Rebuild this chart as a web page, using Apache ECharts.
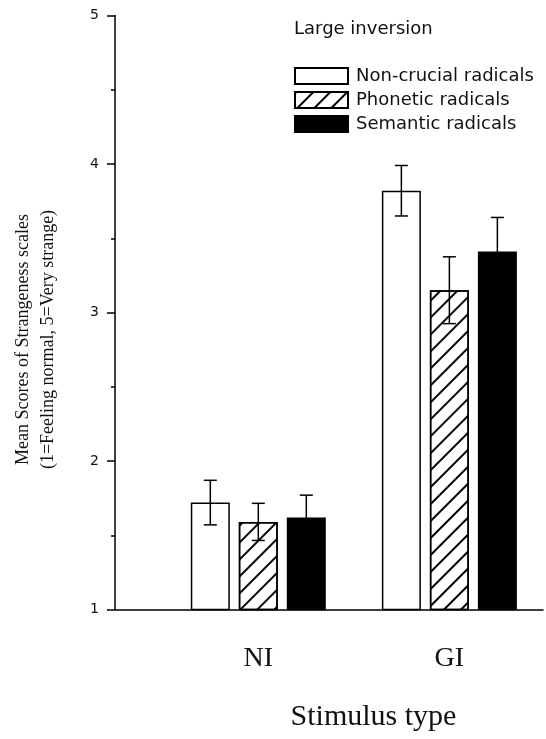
<!DOCTYPE html>
<html>
<head>
<meta charset="utf-8">
<script src="https://cdn.jsdelivr.net/npm/echarts@6/dist/echarts.min.js"></script>
<style>
  html, body { margin: 0; padding: 0; background: #fff; }
  #chart { width: 546px; height: 739px; }
</style>
</head>
<body>
<div id="chart"></div>
<script>
// Stimulus types and their positions on the horizontal axis
const stimulusTypes = ['NI', 'GI'];
const stimulusPositions = [1, 2];

// Radical conditions
const seriesNames = ['Non-crucial radicals', 'Phonetic radicals', 'Semantic radicals'];

// Mean strangeness scores and their error-bar half-lengths
const nonCrucialMeans = [1.72, 3.82];
const nonCrucialErrors = [0.15, 0.17];
const phoneticMeans = [1.59, 3.15];
const phoneticErrors = [0.125, 0.225];
const semanticMeans = [1.62, 3.41];
const semanticErrors = [0.15, 0.23];

const legendTitle = 'Large inversion';
const yAxisTitle = 'Mean Scores of Strangeness scales\n(1=Feeling normal, 5=Very strange)';
const xAxisTitle = 'Stimulus type';

const BAR_WIDTH = 39;
const BAR_GAP = 9;
const INK = '#000';
const TEXT = '#111';

const means = [nonCrucialMeans, phoneticMeans, semanticMeans];
const errors = [nonCrucialErrors, phoneticErrors, semanticErrors];

// Diagonal "/" hatching for the phonetic condition
const hatch = {
  symbol: 'rect',
  symbolSize: 1,
  dashArrayX: [1, 0],
  dashArrayY: [1.6, 10],
  rotation: -Math.PI / 4,
  color: INK
};

const fills = [
  { color: '#fff', borderColor: INK, borderWidth: 1.5 },
  { color: '#fff', borderColor: INK, borderWidth: 1.5, decal: hatch },
  { color: '#000', borderColor: INK, borderWidth: 1.5 }
];

const barSeries = seriesNames.map((name, s) => ({
  name: name,
  type: 'bar',
  barWidth: BAR_WIDTH,
  barGap: (BAR_GAP / BAR_WIDTH * 100) + '%',
  itemStyle: fills[s],
  emphasis: { disabled: true },
  data: stimulusPositions.map((x, i) => [x, means[s][i]])
}));

// Error bars, shifted sideways to sit on the centre of each bar
const errorSeries = seriesNames.map((name, s) => ({
  name: name + ' error',
  type: 'custom',
  z: 5,
  silent: true,
  data: stimulusPositions.map((x, i) => [x, means[s][i] - errors[s][i], means[s][i] + errors[s][i]]),
  renderItem: function (params, api) {
    const offset = (s - 1) * (BAR_WIDTH + BAR_GAP);
    const hi = api.coord([api.value(0), api.value(2)]);
    const lo = api.coord([api.value(0), api.value(1)]);
    const cx = hi[0] + offset;
    const cap = 6.5;
    const style = { stroke: INK, lineWidth: 1.5 };
    return {
      type: 'group',
      children: [
        { type: 'line', shape: { x1: cx, y1: hi[1], x2: cx, y2: lo[1] }, style: style },
        { type: 'line', shape: { x1: cx - cap, y1: hi[1], x2: cx + cap, y2: hi[1] }, style: style },
        { type: 'line', shape: { x1: cx - cap, y1: lo[1], x2: cx + cap, y2: lo[1] }, style: style }
      ]
    };
  }
}));

const chart = echarts.init(document.getElementById('chart'), null, { renderer: 'canvas' });

chart.setOption({
  backgroundColor: '#fff',
  animation: false,
  title: {
    text: legendTitle,
    left: 294,
    top: 20,
    padding: 0,
    textStyle: { fontFamily: 'DejaVu Sans', fontSize: 18, fontWeight: 'normal', color: TEXT }
  },
  legend: {
    data: seriesNames,
    orient: 'vertical',
    left: 294,
    top: 67,
    padding: 0,
    itemWidth: 53,
    itemHeight: 16,
    itemGap: 6,
    icon: 'rect',
    selectedMode: false,
    textStyle: { fontFamily: 'DejaVu Sans', fontSize: 18, color: TEXT, lineHeight: 16, padding: [0, 0, 0, 3] }
  },
  grid: { left: 115, right: 0, top: 15.5, bottom: 129.5, containLabel: false },
  xAxis: {
    type: 'value',
    min: 0.25,
    max: 2.49,
    interval: 0.25,
    splitLine: { show: false },
    axisTick: { show: false },
    axisLine: { onZero: false, lineStyle: { color: INK, width: 1.5 } },
    axisLabel: {
      margin: 35,
      fontFamily: 'Liberation Serif',
      fontSize: 28,
      color: TEXT,
      formatter: function (v) {
        const i = stimulusPositions.indexOf(v);
        return i >= 0 ? stimulusTypes[i] : '';
      }
    },
    name: xAxisTitle,
    nameLocation: 'middle',
    nameGap: 93,
    nameTextStyle: { fontFamily: 'Liberation Serif', fontSize: 30, color: TEXT, padding: [0, 0, 0, 89] }
  },
  yAxis: {
    type: 'value',
    min: 1,
    max: 5,
    interval: 1,
    splitLine: { show: false },
    axisLine: { show: true, onZero: false, lineStyle: { color: INK, width: 1.5 } },
    axisTick: { show: true, length: 8, lineStyle: { color: INK, width: 1.5 } },
    minorTick: { show: true, splitNumber: 2, length: 4, lineStyle: { color: INK, width: 1.5 } },
    axisLabel: { margin: 16, fontFamily: 'DejaVu Sans', fontSize: 14, color: TEXT },
    name: yAxisTitle,
    nameLocation: 'middle',
    nameGap: 54,
    nameTextStyle: { fontFamily: 'Liberation Serif', fontSize: 18, lineHeight: 25, color: TEXT, padding: [0, 54, 0, 0] }
  },
  series: barSeries.concat(errorSeries)
});
</script>
</body>
</html>
